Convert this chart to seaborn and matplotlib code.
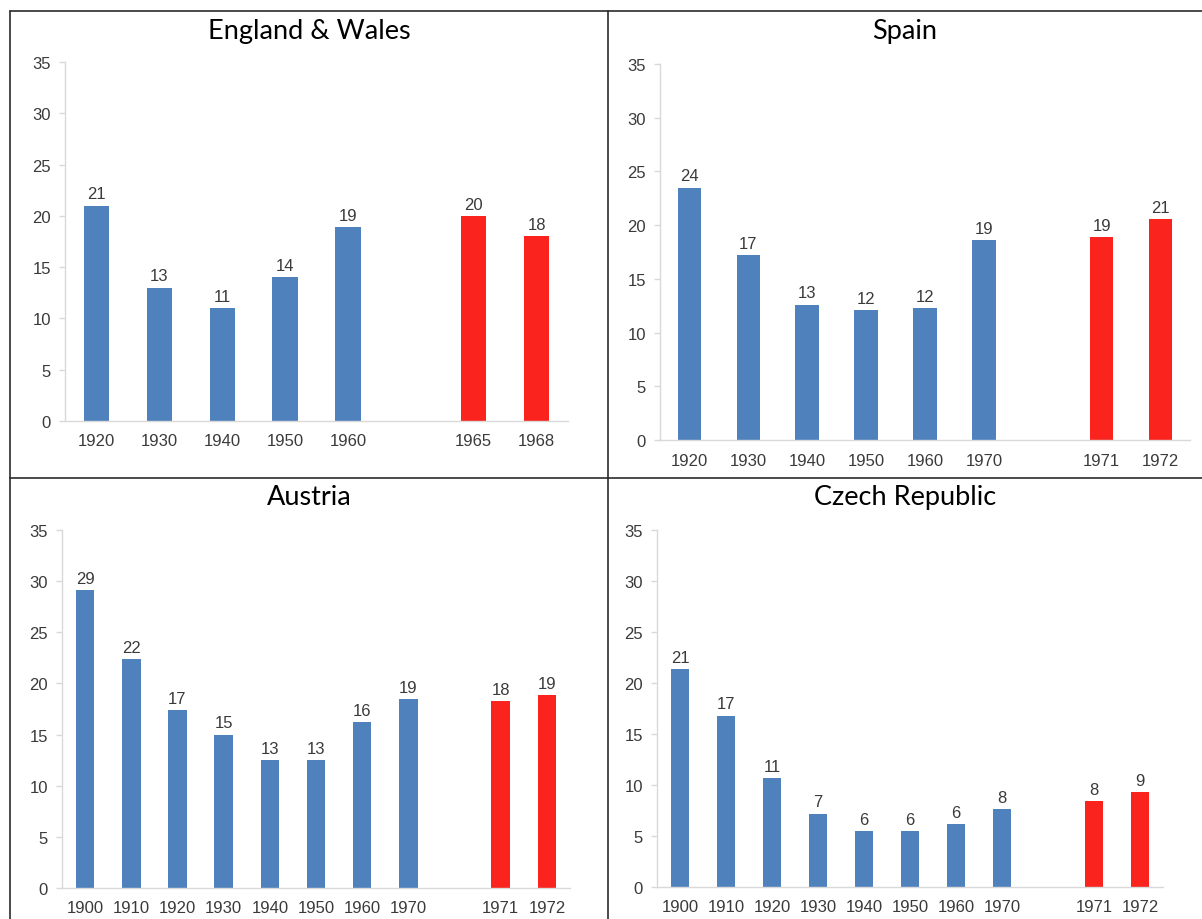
import pandas as pd
import matplotlib
matplotlib.use("Agg")
import matplotlib.pyplot as plt
from matplotlib.lines import Line2D
import seaborn as sns

# ---- data ----
ew_years_past = ["1920", "1930", "1940", "1950", "1960"]
ew_years_recent = ["1965", "1968"]
ew_values = [21.0, 13.0, 11.0, 14.0, 18.9, 20.0, 18.0]
ew_labels = ["21", "13", "11", "14", "19", "20", "18"]

es_years_past = ["1920", "1930", "1940", "1950", "1960", "1970"]
es_years_recent = ["1971", "1972"]
es_values = [23.5, 17.2, 12.6, 12.1, 12.3, 18.6, 18.9, 20.6]
es_labels = ["24", "17", "13", "12", "12", "19", "19", "21"]

at_years_past = ["1900", "1910", "1920", "1930", "1940", "1950", "1960", "1970"]
at_years_recent = ["1971", "1972"]
at_values = [29.1, 22.4, 17.4, 15.0, 12.5, 12.5, 16.2, 18.5, 18.3, 18.9]
at_labels = ["29", "22", "17", "15", "13", "13", "16", "19", "18", "19"]

cz_years_past = ["1900", "1910", "1920", "1930", "1940", "1950", "1960", "1970"]
cz_years_recent = ["1971", "1972"]
cz_values = [21.4, 16.8, 10.7, 7.2, 5.5, 5.5, 6.2, 7.6, 8.4, 9.3]
cz_labels = ["21", "17", "11", "7", "6", "6", "6", "8", "8", "9"]

y_ticks = [0, 5, 10, 15, 20, 25, 30, 35]

BLUE = "#4f81bd"
RED = "#fa231e"
GREY_TXT = "#3a3a3a"
AXIS_GREY = "#d9d9d9"

sns.set_style("white")
plt.rcParams["font.family"] = ["Liberation Sans", "DejaVu Sans"]

W, H = 1202, 920
fig = plt.figure(figsize=(W / 100, H / 100), dpi=100)


def px_axes(left, right, top, bottom):
    return fig.add_axes([left / W, 1 - bottom / H, (right - left) / W, (bottom - top) / H])


def draw_panel(ax, title, title_x, title_y, past, recent, values, labels):
    df = pd.DataFrame({
        "year": past + recent,
        "value": values,
        "group": ["past"] * len(past) + ["recent"] * len(recent),
    })
    order = past + [" "] + recent
    sns.barplot(data=df, x="year", y="value", hue="group", order=order,
                palette={"past": BLUE, "recent": RED}, dodge=False, width=0.4,
                legend=False, saturation=1, edgecolor="none", ax=ax)
    lab_iter = iter(labels)
    for cont in ax.containers:
        ax.bar_label(cont, labels=[next(lab_iter) for _ in cont], padding=3,
                     fontsize=12, color=GREY_TXT)
    ax.set_xlim(-0.5, len(order) - 0.5)
    ax.set_ylim(0, 35)
    ax.set_yticks(y_ticks)
    ax.set_xlabel("")
    ax.set_ylabel("")
    sns.despine(ax=ax)
    for side in ("left", "bottom"):
        ax.spines[side].set_color(AXIS_GREY)
        ax.spines[side].set_linewidth(1.0)
    ax.tick_params(axis="y", length=4, width=1, color=AXIS_GREY, pad=6,
                   labelsize=12, labelcolor=GREY_TXT, left=True)
    ax.tick_params(axis="x", length=0, pad=9, labelsize=12, labelcolor=GREY_TXT)
    fig.text(title_x / W, 1 - title_y / H, title, ha="center", va="center",
             fontsize=19.5, family=["Lato", "DejaVu Sans"], color="black")


ax1 = px_axes(65, 568, 63, 422)
draw_panel(ax1, "England & Wales", 309, 32, ew_years_past, ew_years_recent, ew_values, ew_labels)

ax2 = px_axes(660, 1190, 65, 441)
draw_panel(ax2, "Spain", 905, 32, es_years_past, es_years_recent, es_values, es_labels)

ax3 = px_axes(62, 570, 531, 889)
draw_panel(ax3, "Austria", 309, 498, at_years_past, at_years_recent, at_values, at_labels)

ax4 = px_axes(657, 1163, 531, 888)
draw_panel(ax4, "Czech Republic", 905, 498, cz_years_past, cz_years_recent, cz_values, cz_labels)

# panel frame lines
frame_kw = dict(color="#2b2b2b", lw=1.2, transform=fig.transFigure)
fig.add_artist(Line2D([10 / W, 10 / W], [1 - 12 / H, 0], **frame_kw))
fig.add_artist(Line2D([608 / W, 608 / W], [1 - 12 / H, 0], **frame_kw))
fig.add_artist(Line2D([10 / W, 1], [1 - 12 / H, 1 - 12 / H], **frame_kw))
fig.add_artist(Line2D([10 / W, 1], [1 - 479 / H, 1 - 479 / H], **frame_kw))

fig.savefig("out.png", dpi=100)
